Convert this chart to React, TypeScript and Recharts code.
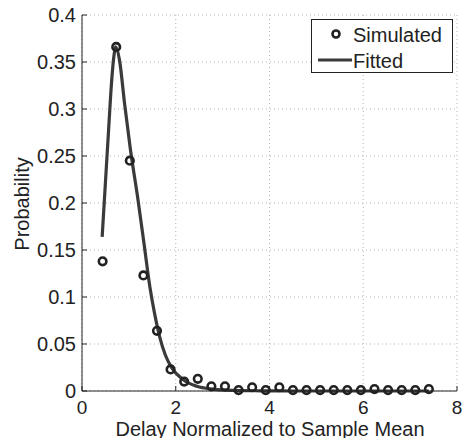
import React from 'react';
import {
  ComposedChart,
  Line,
  Scatter,
  XAxis,
  YAxis,
  CartesianGrid,
} from 'recharts';

// simulated histogram (circles)
const simX = [0.44, 0.73, 1.02, 1.31, 1.6, 1.89, 2.18, 2.47, 2.76, 3.05, 3.34, 3.63, 3.92, 4.21, 4.5, 4.79, 5.08, 5.37, 5.66, 5.95, 6.24, 6.53, 6.82, 7.11, 7.4];
const simY = [0.138, 0.366, 0.245, 0.123, 0.064, 0.023, 0.010, 0.013, 0.005, 0.005, 0.001, 0.004, 0.001, 0.004, 0.001, 0.001, 0.001, 0.001, 0.001, 0.001, 0.002, 0.001, 0.001, 0.001, 0.002];

// fitted curve
const fitX = [0.43, 0.5, 0.57, 0.63, 0.68, 0.72, 0.8, 0.91, 1.03, 1.19, 1.32, 1.45, 1.55, 1.66, 1.78, 1.91, 2.16, 2.45, 2.8, 3.2, 3.8, 4.5, 7.4];
const fitY = [0.164, 0.222, 0.28, 0.328, 0.356, 0.366, 0.352, 0.305, 0.258, 0.205, 0.158, 0.11, 0.082, 0.057, 0.038, 0.025, 0.012, 0.005, 0.002, 0.0007, 0.0002, 0, 0];

const xTicks = [0, 2, 4, 6, 8];
const yTicks = [0, 0.05, 0.1, 0.15, 0.2, 0.25, 0.3, 0.35, 0.4];

const simulated = simX.map((x, i) => ({ x, y: simY[i] }));
const fitted = fitX.map((x, i) => ({ x, y: fitY[i] }));

const INK = '#222';
const FONT = '"Liberation Sans", Arial, Helvetica, sans-serif';
const TICK_LEN = 5;

const BottomTick = ({ x, y, payload }: any) => (
  <g>
    <line x1={x} x2={x} y1={y} y2={y - TICK_LEN} stroke={INK} strokeWidth={1} />
    <text x={x} y={y + 23} textAnchor="middle" fill={INK} fontSize={19} fontFamily={FONT}>
      {payload.value}
    </text>
  </g>
);

const LeftTick = ({ x, y, payload }: any) => (
  <g>
    <line x1={x} x2={x + TICK_LEN} y1={y} y2={y} stroke={INK} strokeWidth={1} />
    <text x={x - 6} y={y + 7} textAnchor="end" fill={INK} fontSize={20} fontFamily={FONT}>
      {payload.value}
    </text>
  </g>
);

const TopTick = ({ x, y }: any) => (
  <line x1={x} x2={x} y1={y} y2={y + TICK_LEN} stroke={INK} strokeWidth={1} />
);

const RightTick = ({ x, y }: any) => (
  <line x1={x} x2={x - TICK_LEN} y1={y} y2={y} stroke={INK} strokeWidth={1} />
);

const Ring = ({ cx, cy }: any) => (
  <circle cx={cx} cy={cy} r={3.8} fill="none" stroke={INK} strokeWidth={2.6} />
);

export default function App() {
  return (
    <div style={{ position: 'absolute', left: 0, top: 0, width: 462, height: 438, background: '#fff', fontFamily: FONT }}>
      <ComposedChart width={462} height={438} margin={{ top: 15, right: 5, left: 0, bottom: 0 }}>
        <CartesianGrid strokeDasharray="1 3" stroke="#b5b5b5" />
        <XAxis
          dataKey="x"
          type="number"
          domain={[0, 8]}
          ticks={xTicks}
          height={47}
          tickSize={0}
          tickMargin={0}
          tickLine={false}
          axisLine={{ stroke: INK }}
          tick={<BottomTick />}
          interval={0}
        />
        <XAxis
          xAxisId="top"
          orientation="top"
          type="number"
          domain={[0, 8]}
          ticks={xTicks}
          height={0}
          tickSize={0}
          tickMargin={0}
          tickLine={false}
          axisLine={{ stroke: INK }}
          tick={<TopTick />}
          interval={0}
        />
        <YAxis
          type="number"
          domain={[0, 0.4]}
          ticks={yTicks}
          width={82}
          tickSize={0}
          tickMargin={0}
          tickLine={false}
          axisLine={{ stroke: INK }}
          tick={<LeftTick />}
          interval={0}
        />
        <YAxis
          yAxisId="right"
          orientation="right"
          type="number"
          domain={[0, 0.4]}
          ticks={yTicks}
          width={0}
          tickSize={0}
          tickMargin={0}
          tickLine={false}
          axisLine={{ stroke: INK }}
          tick={<RightTick />}
          interval={0}
        />
        <Line
          data={fitted}
          dataKey="y"
          type="monotone"
          stroke="#3a3a3a"
          strokeWidth={3.2}
          dot={false}
          activeDot={false}
          isAnimationActive={false}
        />
        <Scatter data={simulated} dataKey="y" shape={<Ring />} isAnimationActive={false} />
        <text
          x={28.5}
          y={204}
          transform="rotate(-90 28.5 204)"
          textAnchor="middle"
          fill={INK}
          fontSize={20}
          fontFamily={FONT}
        >
          Probability
        </text>
        <text x={270} y={435.5} textAnchor="middle" fill={INK} fontSize={20} fontFamily={FONT}>
          Delay Normalized to Sample Mean
        </text>
      </ComposedChart>
      <div
        style={{
          position: 'absolute',
          left: 311,
          top: 19,
          width: 142,
          height: 54,
          boxSizing: 'border-box',
          border: `1px solid ${INK}`,
          background: '#fff',
        }}
      >
        <svg width={140} height={52} style={{ display: 'block' }}>
          <circle cx={24} cy={14} r={3.5} fill="none" stroke={INK} strokeWidth={2.6} />
          <text x={41} y={22} fill={INK} fontSize={20} fontFamily={FONT}>Simulated</text>
          <line x1={6} x2={40} y1={40} y2={40} stroke="#3a3a3a" strokeWidth={3.2} />
          <text x={41} y={47.5} fill={INK} fontSize={20} fontFamily={FONT}>Fitted</text>
        </svg>
      </div>
    </div>
  );
}
